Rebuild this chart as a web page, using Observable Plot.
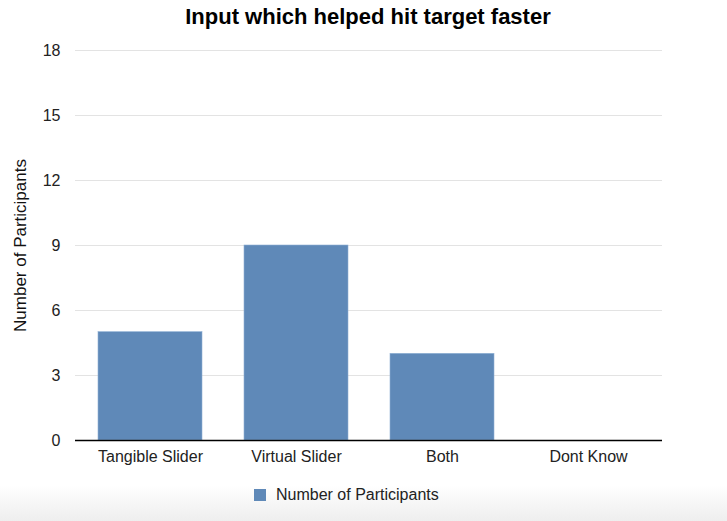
<!DOCTYPE html>
<html>
<head>
<meta charset="utf-8">
<script src="https://cdn.jsdelivr.net/npm/d3@7"></script>
<script src="https://cdn.jsdelivr.net/npm/@observablehq/plot@0.6"></script>
<style>
  html, body { margin: 0; padding: 0; background: #fff; }
  #wrap { position: relative; width: 727px; height: 521px; overflow: hidden; font-family: "Liberation Sans", Arial, Helvetica, sans-serif; }
  #title { position: absolute; left: 0; width: 736px; top: 4px; text-align: center; font-weight: bold; font-size: 22px; color: #000; }
  #chart { position: absolute; left: 0; top: 0; }
  #legend { position: absolute; left: 254px; top: 486px; display: flex; align-items: center; font-size: 16px; color: #222; }
  #legend .sw { width: 12px; height: 12px; background: #5f89b8; margin-right: 10px; }
  #shade { position: absolute; left: 0; right: 0; top: 485px; height: 36px; background: linear-gradient(to bottom, rgba(255,255,255,0), rgba(238,238,238,1)); }
</style>
</head>
<body>
<div id="wrap">
  <div id="shade"></div>
  <div id="chart"></div>
  <div id="title">Input which helped hit target faster</div>
  <div id="legend"><div class="sw"></div><span id="legendText"></span></div>
</div>
<script>
const categories = ["Tangible Slider", "Virtual Slider", "Both", "Dont Know"];
const values = [5, 9, 4, 0];
const yTicks = [0, 3, 6, 9, 12, 15, 18];
const seriesName = "Number of Participants";
const yLabel = "Number of Participants";

const data = categories.map((c, i) => ({category: c, value: values[i]}));
const barColor = "#5f89b8";

const chart = Plot.plot({
  width: 727,
  height: 475,
  marginTop: 50,
  marginBottom: 35,
  marginLeft: 75,
  marginRight: 65,
  style: {fontFamily: "Liberation Sans, Arial, sans-serif", fontSize: "16px", color: "#222", background: "transparent"},
  x: {domain: categories, paddingInner: 0.29, paddingOuter: 0.145, label: null, tickSize: 0, tickPadding: 10},
  y: {domain: [0, 18], ticks: yTicks, label: null, tickSize: 0, tickPadding: 15},
  marks: [
    Plot.gridY(yTicks, {stroke: "#e3e3e3", strokeOpacity: 1, strokeWidth: 1}),
    Plot.barY(data, {x: "category", y: "value", fill: barColor, stroke: "#8fb0d4", strokeWidth: 0.6}),
    Plot.ruleY([0], {stroke: "#000", strokeWidth: 1.5}),
    Plot.axisX({tickSize: 0, tickPadding: 10, fontSize: 16, label: null}),
    Plot.axisY(yTicks, {tickSize: 0, tickPadding: 15, fontSize: 16, label: null}),
    Plot.text([yLabel], {frameAnchor: "left", dx: -55, rotate: -90, textAnchor: "middle", fontSize: 17, fill: "#111"})
  ]
});
document.getElementById("chart").appendChild(chart);
document.getElementById("legendText").textContent = seriesName;
</script>
</body>
</html>
